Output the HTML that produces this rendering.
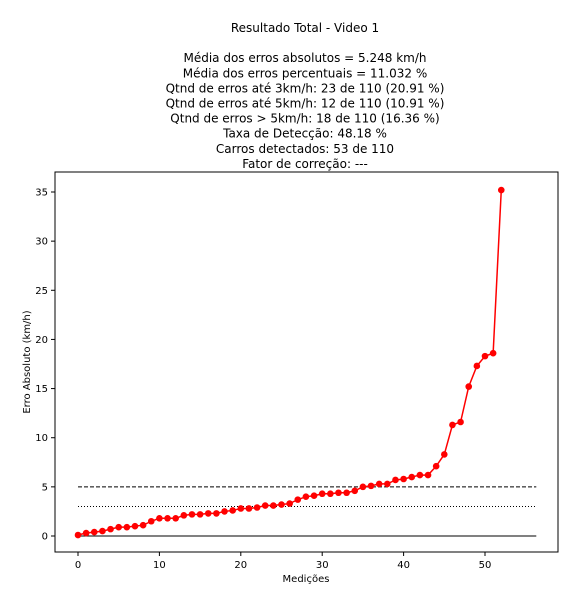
<!DOCTYPE html><html><head><meta charset="utf-8"><style>body{margin:0;background:#fff}svg{display:block;font-family:"DejaVu Sans","Liberation Sans",sans-serif}</style></head><body>
<svg id="c" width="582" height="605"></svg>
<script>
const values=[0.1,0.3,0.4,0.5,0.7,0.9,0.9,1.0,1.1,1.5,1.8,1.8,1.8,2.1,2.2,2.2,2.3,2.3,2.5,2.6,2.8,2.8,2.9,3.1,3.1,3.2,3.3,3.7,4.0,4.1,4.3,4.3,4.4,4.4,4.6,5.0,5.1,5.3,5.3,5.7,5.8,6.0,6.2,6.2,7.1,8.3,11.3,11.6,15.2,17.3,18.3,18.6,35.2];
const xTicks=[0,10,20,30,40,50];
const yTicks=[0,5,10,15,20,25,30,35];
const refLines=[{v:0,d:""},{v:3,d:"1,2"},{v:5,d:"4,2"}];
const titleLines=["Resultado Total - Video 1","","Média dos erros absolutos =  5.248 km/h","Média dos erros percentuais = 11.032 %","Qtnd de erros até 3km/h: 23 de 110 (20.91 %)","Qtnd de erros até 5km/h: 12 de 110 (10.91 %)","Qtnd de erros > 5km/h: 18 de 110 (16.36 %)","Taxa de Detecção: 48.18 %","Carros detectados: 53 de 110","Fator de correção: ---"];
const L=55,R=558,T=172,B=552;
const sx=v=>78+v*(485-78)/50, sy=v=>536-v*(536-192)/35;
const s=document.getElementById('c');const NS="http://www.w3.org/2000/svg";
function mk(t,a,p){const e=document.createElementNS(NS,t);for(const k in a)e.setAttribute(k,a[k]);(p||s).appendChild(e);return e;}
titleLines.forEach((t,i)=>{const e=mk('text',{x:305,y:32+i*15.1,'text-anchor':'middle','font-size':12,'xml:space':'preserve'});e.textContent=t;

});
refLines.forEach(r=>{const e=mk('line',{x1:sx(0),x2:sx(56.3),y1:sy(r.v),y2:sy(r.v),stroke:'#000','stroke-width':1,'stroke-dasharray':r.d});

});
const pl=mk('polyline',{points:values.map((v,i)=>sx(i)+','+sy(v)).join(' '),fill:'none',stroke:'red','stroke-width':1.5});


values.forEach((v,i)=>{const c=mk('circle',{cx:sx(i),cy:sy(v),r:3.3,fill:'red'});

});
const fr=mk('rect',{x:L,y:T,width:R-L,height:B-T,fill:'none',stroke:'#000','stroke-width':1});


xTicks.forEach(v=>{mk('line',{x1:sx(v),x2:sx(v),y1:B,y2:B+4,stroke:'#000'});const t=mk('text',{x:sx(v),y:B+16,'text-anchor':'middle','font-size':10});t.textContent=v;

});
yTicks.forEach(v=>{mk('line',{x1:L-4,x2:L,y1:sy(v),y2:sy(v),stroke:'#000'});const t=mk('text',{x:L-7,y:sy(v)+3.5,'text-anchor':'end','font-size':10});t.textContent=v;

});
const xt=mk('text',{x:306,y:582,'text-anchor':'middle','font-size':10});xt.textContent='Medições';


const yt=mk('text',{x:30,y:362,'text-anchor':'middle','font-size':10,transform:'rotate(-90 30 362)'});yt.textContent='Erro Absoluto (km/h)';


</script></body></html>
